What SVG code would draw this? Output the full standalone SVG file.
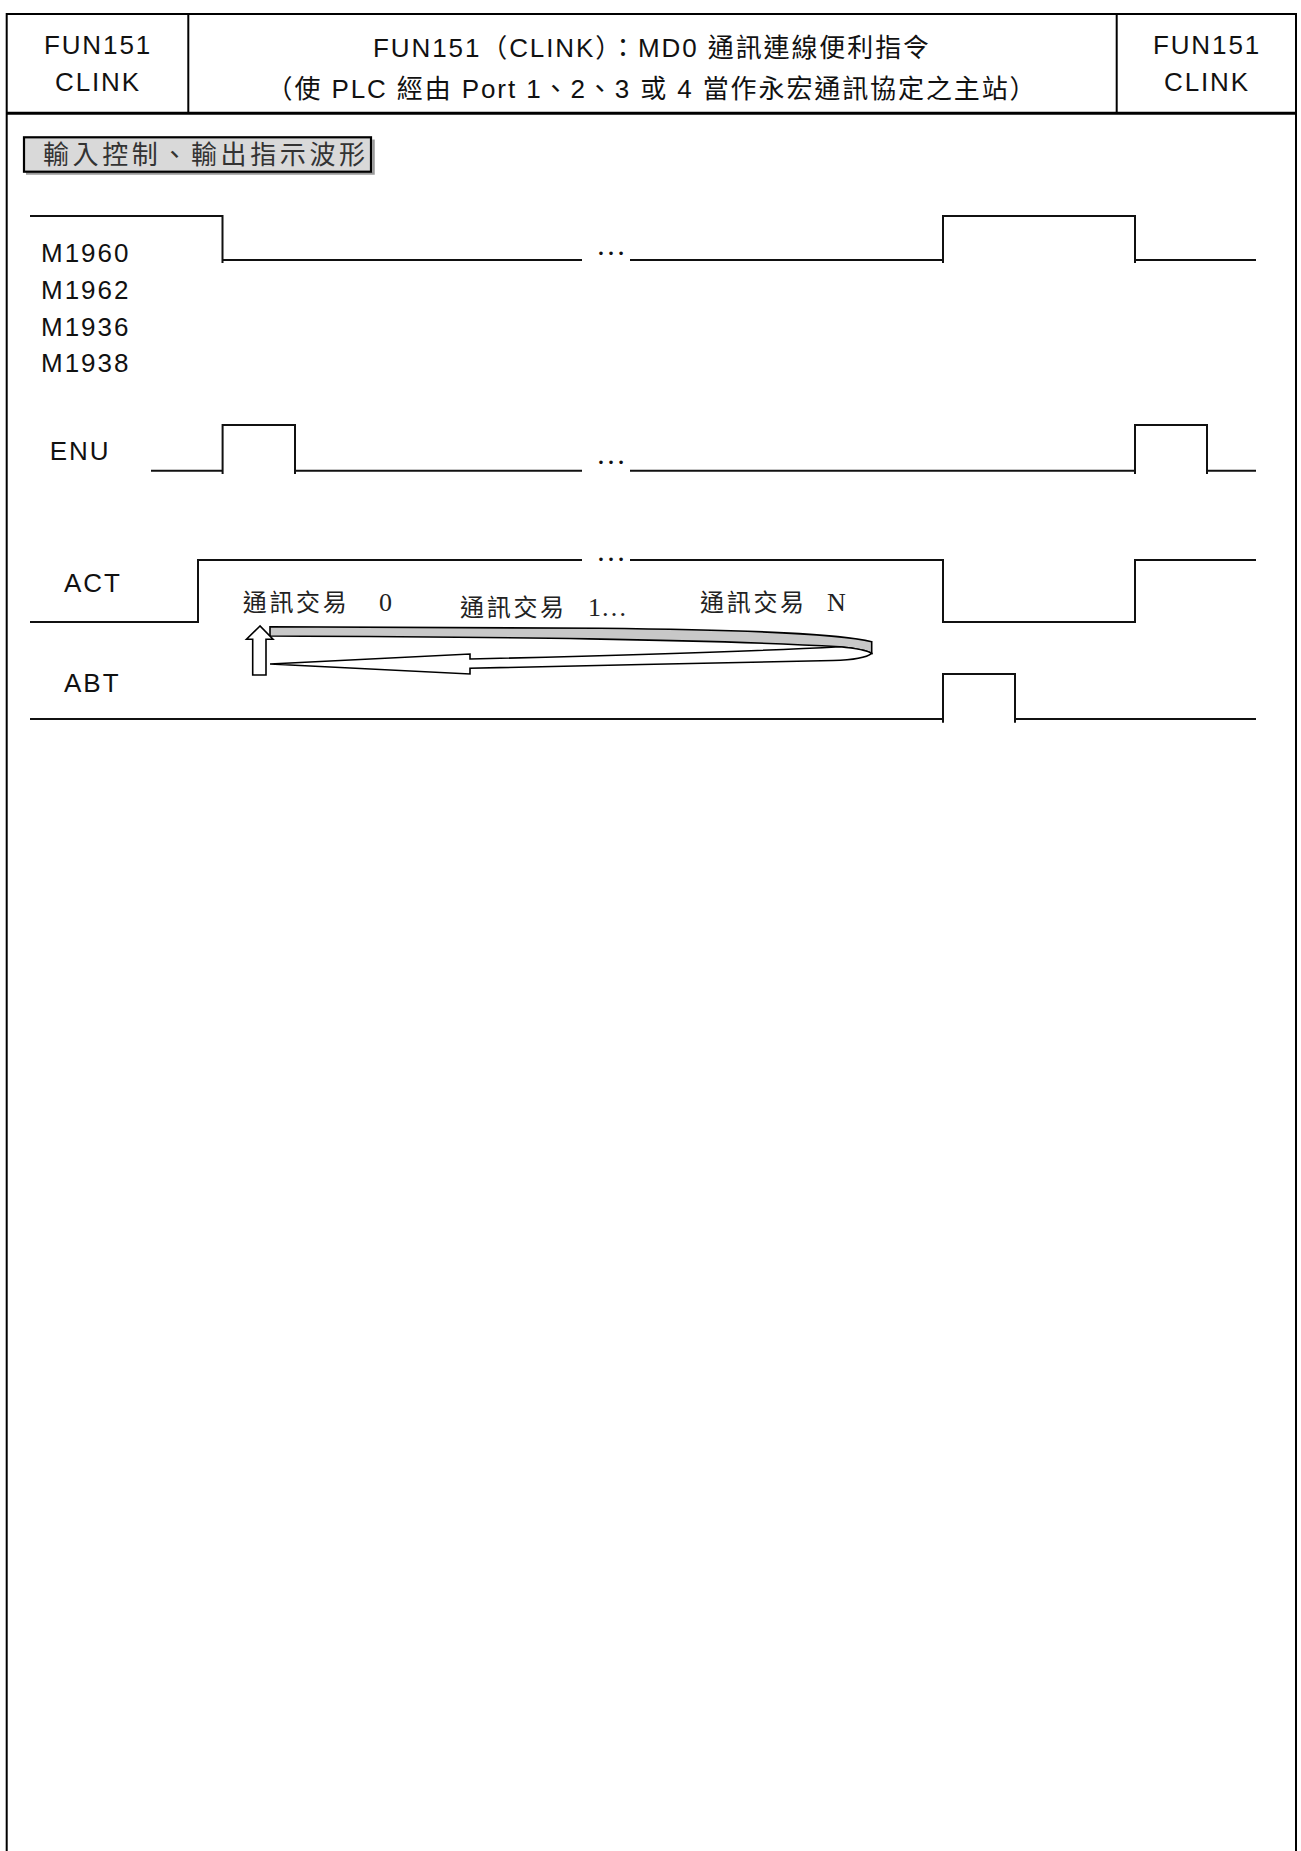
<svg xmlns="http://www.w3.org/2000/svg" width="1301" height="1851" viewBox="0 0 1301 1851">
<style>
.frame{fill:none;stroke:#000;stroke-width:2}
.hd{font-family:"Liberation Sans","Noto Sans CJK TC",sans-serif;font-size:26px;letter-spacing:1.9px;fill:#111;text-anchor:middle}
.lbl{font-family:"Liberation Sans","Noto Sans CJK TC",sans-serif;font-size:26px;letter-spacing:2px;fill:#111}
.wave{fill:none;stroke:#111;stroke-width:2;stroke-linejoin:miter}
.dots{font-family:"Liberation Serif",serif;font-size:30px;fill:#111}
.tx{font-family:"Liberation Serif","Noto Sans CJK TC",serif;font-size:24px;letter-spacing:2.7px;fill:#222}
.lat{letter-spacing:0;font-size:26px}
.arr{stroke:#000;stroke-width:1.6;stroke-linejoin:miter}
</style>
<rect x="0" y="0" width="1301" height="1851" fill="#fff"/>
<g id="frame">
<path class="frame" d="M6.7,1851 V14 H1296 V1851"/>
<line x1="6.7" y1="113.3" x2="1296" y2="113.3" stroke="#000" stroke-width="3"/>
<line x1="188.3" y1="14" x2="188.3" y2="113" stroke="#000" stroke-width="2"/>
<line x1="1116.7" y1="14" x2="1116.7" y2="113" stroke="#000" stroke-width="2"/>
</g>
<g id="header-left">
<text class="hd" x="98" y="54.3">FUN151</text>
<text class="hd" x="98" y="91">CLINK</text>
</g>
<g id="header-title">
<text class="hd" x="652" y="56.7">FUN151（CLINK）：MD0 通訊連線便利指令</text>
<text class="hd" x="652" y="98">（使 PLC 經由 Port 1、2、3 或 4 當作永宏通訊協定之主站）</text>
</g>
<g id="header-right">
<text class="hd" x="1207" y="54.3">FUN151</text>
<text class="hd" x="1207" y="91">CLINK</text>
</g>
<g id="section-title">
<path d="M26,173.5 H373.5 V139.5" fill="none" stroke="#9a9a9a" stroke-width="2.5"/>
<rect x="24" y="137.3" width="347" height="34.4" fill="#d9d9d9" stroke="#000" stroke-width="2.2"/>
<text x="43" y="164.4" font-family="'Noto Sans CJK TC',sans-serif" font-size="26" letter-spacing="3.6" fill="#333">輸入控制、輸出指示波形</text>
</g>
<g id="sig-m1960">
<text class="lbl" x="41" y="262.3">M1960</text>
<text class="lbl" x="41" y="299">M1962</text>
<text class="lbl" x="41" y="335.7">M1936</text>
<text class="lbl" x="41" y="372.3">M1938</text>
<path class="wave" d="M30,216 H222.5 V263 M222.5,260 H582"/>
<text class="dots" x="596" y="255">…</text>
<path class="wave" d="M630,260 H943 M943,263 V216 H1135 V263 M1135,260 H1256"/>
</g>
<g id="sig-enu">
<text class="lbl" x="49.7" y="460">ENU</text>
<path class="wave" d="M151,470.7 H222.6 M222.6,474 V425 H295 V474 M295,470.7 H582"/>
<text class="dots" x="596" y="464">…</text>
<path class="wave" d="M630,470.7 H1135 M1135,474 V425 H1207 V474 M1207,470.7 H1256"/>
</g>
<g id="sig-act">
<text class="lbl" x="64" y="591.7">ACT</text>
<path class="wave" d="M30,622 H198 V560 H582"/>
<text class="dots" x="596" y="561">…</text>
<path class="wave" d="M630,560 H943 V622 H1135 V560 H1256"/>
<text class="tx" x="242.7" y="611">通訊交易<tspan class="lat" x="379">0</tspan></text>
<text class="tx" x="460" y="616">通訊交易<tspan class="lat" x="588">1…</tspan></text>
<text class="tx" x="700" y="611">通訊交易<tspan class="lat" x="827">N</tspan></text>
</g>
<g id="sig-abt">
<text class="lbl" x="64" y="691.7">ABT</text>
<path class="wave" d="M30,719 H943 M943,722.7 V674 H1015 V722.7 M1015,719 H1256"/>
</g>
<g id="connectors">
<path class="arr" fill="#c8c8c8" d="M270,626.7 L600,628.3 C760,630 840,634 871.7,641.7 L871.7,653.3 C868,651 858,648.5 840,646.7 C700,639 500,637 270,636 Z"/>
<path class="arr" fill="#fff" d="M871.7,653.3 C868,651 858,648.5 840,646.7 C760,651 600,656 470,659 L470,654 L270,664 L470,674 L470,668.3 C600,665.5 700,663 833,660.5 C850,660 866,658 871.7,653.3 Z"/>
<path class="arr" fill="#fff" d="M260,626 L246.5,639.3 L252.7,639.3 L252.7,675 L266,675 L266,639.3 L273,639.3 Z"/>
</g>
</svg>
